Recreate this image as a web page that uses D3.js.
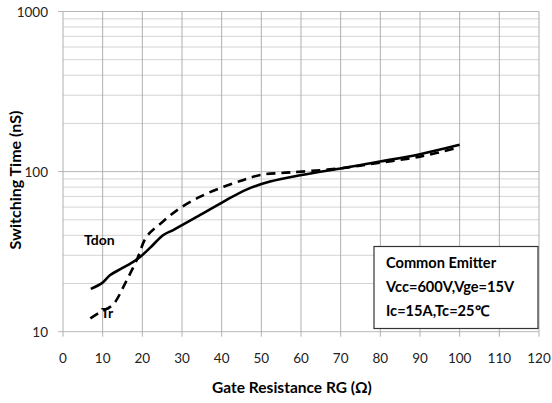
<!DOCTYPE html>
<html>
<head>
<meta charset="utf-8">
<script src="https://cdn.jsdelivr.net/npm/d3@7"></script>
<style>
  body { margin: 0; background: #fff; }
  svg text { font-family: Lato, "Open Sans", sans-serif; }
</style>
</head>
<body>
<div id="chart"></div>
<script>
// Gate resistance (ohm) for each sampled point
var rgTdon = [7, 9.8, 11.9, 15, 17.8, 19.5, 22, 25.3, 27.9, 34.6, 40.5, 46.4, 52.2, 60.2, 70.3, 79.9, 90, 100];
var tdon   = [18.5, 20.1, 22.6, 25, 27.4, 29.4, 33.5, 40.2, 43.3, 53.6, 65, 77.5, 86.6, 95.3, 105, 115.5, 128.5, 147];

var rgTr = [6.9, 9.5, 11.9, 13.2, 15.7, 18.6, 21.1, 24.7, 28.8, 34.6, 40.5, 45.5, 49.7, 55, 60.2, 70.3, 79.9, 90, 100];
var tr   = [12.1, 13.3, 14.3, 15.4, 20.1, 28.1, 39.3, 47.6, 57.5, 69.8, 80.5, 88.7, 95.3, 98, 100, 105, 113.7, 124, 142];

var xTicks = [0, 10, 20, 30, 40, 50, 60, 70, 80, 90, 100, 110, 120];
var yMajor = [10, 100, 1000];
var legendLines = ['Common Emitter', 'Vcc=600V,Vge=15V', 'Ic=15A,Tc=25\u2103'];

(function () {
    var width = 552, height = 403;
    var pLeft = 63, pRight = 539, pTop = 11.5, pBottom = 331.7;

    var svg = d3.select('#chart').append('svg')
        .attr('width', width)
        .attr('height', height);

    var x = d3.scaleLinear().domain([0, 120]).range([pLeft, pRight]);
    var y = d3.scaleLog().domain([10, 1000]).range([pBottom, pTop]);

    // minor log gridlines
    var yMinor = [];
    [10, 100].forEach(function (d) {
        for (var k = 2; k <= 9; k++) yMinor.push(d * k);
    });

    svg.append('g').selectAll('line')
        .data(yMinor).enter().append('line')
        .attr('x1', pLeft).attr('x2', pRight)
        .attr('y1', function (d) { return y(d); })
        .attr('y2', function (d) { return y(d); })
        .attr('stroke', '#d4d4d4').attr('stroke-width', 1);

    svg.append('g').selectAll('line')
        .data(yMajor).enter().append('line')
        .attr('x1', pLeft - 5).attr('x2', pRight)
        .attr('y1', function (d) { return y(d); })
        .attr('y2', function (d) { return y(d); })
        .attr('stroke', '#b8b8b8').attr('stroke-width', 1);

    svg.append('g').selectAll('line')
        .data(xTicks).enter().append('line')
        .attr('x1', function (d) { return x(d); })
        .attr('x2', function (d) { return x(d); })
        .attr('y1', pTop)
        .attr('y2', pBottom + 5)
        .attr('stroke', '#b0b0b0').attr('stroke-width', 1);

    // y tick labels
    svg.append('g').selectAll('text')
        .data(yMajor).enter().append('text')
        .attr('x', pLeft - 15)
        .attr('y', function (d) { return y(d) + 5; })
        .attr('text-anchor', 'end')
        .attr('font-size', 13.5)
        .attr('fill', '#222')
        .text(function (d) { return d; });

    // x tick labels
    svg.append('g').selectAll('text')
        .data(xTicks).enter().append('text')
        .attr('x', function (d) { return x(d); })
        .attr('y', 363)
        .attr('text-anchor', 'middle')
        .attr('font-size', 13.5)
        .attr('fill', '#222')
        .text(function (d) { return d; });

    // axis titles
    svg.append('text')
        .attr('x', 292).attr('y', 393)
        .attr('text-anchor', 'middle')
        .attr('font-size', 15.5)
        .attr('font-weight', 'bold')
        .text('Gate Resistance RG (\u03A9)');

    svg.append('text')
        .attr('transform', 'translate(21,180) rotate(-90)')
        .attr('text-anchor', 'middle')
        .attr('font-size', 16)
        .attr('font-weight', 'bold')
        .text('Switching Time (nS)');

    // curves
    var line = d3.line()
        .x(function (d) { return x(d[0]); })
        .y(function (d) { return y(d[1]); })
        .curve(d3.curveCatmullRom.alpha(0.5));

    svg.append('path')
        .datum(d3.zip(rgTdon, tdon))
        .attr('d', line)
        .attr('fill', 'none')
        .attr('stroke', '#000')
        .attr('stroke-width', 2.6);

    svg.append('path')
        .datum(d3.zip(rgTr, tr))
        .attr('d', line)
        .attr('fill', 'none')
        .attr('stroke', '#000')
        .attr('stroke-width', 2.6)
        .attr('stroke-dasharray', '9,6');

    // curve labels
    svg.append('text')
        .attr('x', 84).attr('y', 245)
        .attr('font-size', 14).attr('font-weight', 'bold')
        .text('Tdon');
    svg.append('text')
        .attr('x', 101).attr('y', 318)
        .attr('font-size', 14).attr('font-weight', 'bold')
        .text('Tr');

    // legend box
    var lg = svg.append('g');
    lg.append('rect')
        .attr('x', 374).attr('y', 246.5)
        .attr('width', 164).attr('height', 82)
        .attr('fill', '#fff')
        .attr('stroke', '#333')
        .attr('stroke-width', 1.2);
    lg.selectAll('text')
        .data(legendLines).enter().append('text')
        .attr('x', 386)
        .attr('y', function (d, i) { return 268 + i * 24; })
        .attr('font-size', 14.6)
        .attr('font-weight', 'bold')
        .text(function (d) { return d; });
})();
</script>
</body>
</html>
